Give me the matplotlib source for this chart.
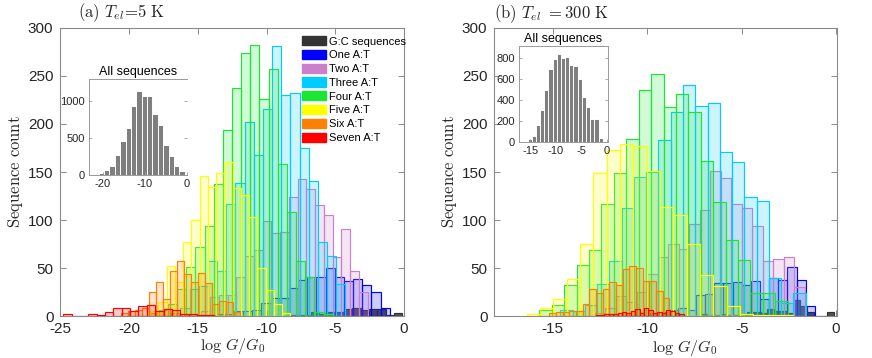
import numpy as np
import matplotlib
matplotlib.use("Agg")
import matplotlib.pyplot as plt
from matplotlib.patches import Patch

plt.rcParams['font.family'] = ['Liberation Sans', 'DejaVu Sans']
plt.rcParams['mathtext.fontset'] = 'cm'
plt.rcParams['axes.unicode_minus'] = False

# ---------------- data ----------------
labels = ["G:C sequences", "One A:T", "Two A:T", "Three A:T",
          "Four A:T", "Five A:T", "Six A:T", "Seven A:T"]
colors = ["#333333", "#0000ff", "#cc80cc", "#00ccff",
          "#1ae633", "#ffff00", "#ff8000", "#ff0000"]

# panel (a)  T_el = 5 K : (first bin left edge, bin width, counts)
a_gc_start, a_gc_width = -8.62, 0.607
a_gc_counts = [1, 1, 1, 4, 2, 4, 4, 7, 8, 6, 7, 7, 1, 3]
a_one_start, a_one_width = -14.38, 0.667
a_one_counts = [1, 2, 2, 5, 5, 6, 14, 19, 19, 29, 37, 41, 41, 50, 41, 36, 39, 32, 25, 8]
a_two_start, a_two_width = -14.75, 0.637
a_two_counts = [5, 20, 22, 22, 41, 62, 69, 99, 86, 88, 124, 143, 132, 116, 105, 61, 91, 47, 25]
a_three_start, a_three_width = -16.93, 0.666
a_three_counts = [3, 8, 28, 31, 57, 47, 117, 139, 202, 168, 216, 281, 230, 232, 175, 141, 77, 63, 33]
a_four_start, a_four_width = -18.51, 0.666
a_four_counts = [3, 6, 13, 28, 51, 72, 94, 138, 194, 238, 274, 282, 226, 257, 158, 108, 57, 41, 4, 2]
a_five_start, a_five_width = -18.47, 0.600
a_five_counts = [5, 15, 52, 35, 77, 100, 146, 134, 149, 160, 133, 126, 103, 50, 27, 12, 3]
a_six_start, a_six_width = -20.58, 0.510
a_six_counts = [3, 5, 6, 8, 25, 35, 18, 47, 57, 44, 35, 45, 34, 12, 16, 15, 4]
a_seven_start, a_seven_width = -24.78, 0.607
a_seven_counts = [2, 0, 0, 2, 1, 4, 8, 8, 5, 10, 11, 5, 7, 6, 2, 2, 1, 1]

# panel (b)  T_el = 300 K
b_gc_start, b_gc_width = -7.18, 0.353
b_gc_counts = [2, 1, 1, 2, 1, 1, 2, 4, 4, 3, 7, 5, 5, 3, 17, 10, 4, 0, 0, 4]
b_one_start, b_one_width = -9.85, 0.485
b_one_counts = [3, 4, 6, 8, 6, 22, 23, 34, 34, 35, 32, 36, 18, 40, 38, 51, 37, 10]
b_two_start, b_two_width = -12.79, 0.557
b_two_counts = [3, 8, 21, 15, 25, 44, 61, 75, 70, 96, 110, 151, 144, 117, 112, 94, 57, 59, 61, 30]
b_three_start, b_three_width = -14.61, 0.650
b_three_counts = [6, 5, 11, 33, 57, 112, 145, 150, 183, 213, 241, 219, 222, 171, 160, 124, 120, 40, 14, 24]
b_four_start, b_four_width = -15.71, 0.657
b_four_counts = [6, 11, 32, 53, 69, 117, 149, 184, 235, 252, 218, 231, 213, 161, 119, 79, 58, 24, 24, 16]
b_five_start, b_five_width = -16.38, 0.706
b_five_counts = [2, 8, 18, 39, 75, 149, 173, 179, 177, 151, 114, 105, 75, 43, 31, 10, 2, 1, 1, 1]
b_six_start, b_six_width = -15.19, 0.353
b_six_counts = [3, 4, 4, 5, 5, 13, 28, 24, 28, 35, 32, 49, 52, 50, 36, 36, 26, 19]
b_seven_start, b_seven_width = -12.74, 0.233
b_seven_counts = [1, 1, 2, 2, 2, 3, 4, 3, 5, 7, 3, 8, 6, 3, 4, 3, 6, 5, 3, 2]

# insets: all sequences
ia_start, ia_width = -22.24, 1.28
ia_counts = [14, 23, 68, 126, 266, 455, 640, 932, 1140, 1077, 1077, 824, 676, 401, 257, 126, 54]
ib_start, ib_width = -15.52, 0.815
ib_counts = [22, 57, 158, 300, 490, 696, 791, 832, 800, 807, 734, 718, 592, 421, 332, 212, 212, 32]

panel_a = [(a_gc_start, a_gc_width, a_gc_counts), (a_one_start, a_one_width, a_one_counts),
           (a_two_start, a_two_width, a_two_counts), (a_three_start, a_three_width, a_three_counts),
           (a_four_start, a_four_width, a_four_counts), (a_five_start, a_five_width, a_five_counts),
           (a_six_start, a_six_width, a_six_counts), (a_seven_start, a_seven_width, a_seven_counts)]
panel_b = [(b_gc_start, b_gc_width, b_gc_counts), (b_one_start, b_one_width, b_one_counts),
           (b_two_start, b_two_width, b_two_counts), (b_three_start, b_three_width, b_three_counts),
           (b_four_start, b_four_width, b_four_counts), (b_five_start, b_five_width, b_five_counts),
           (b_six_start, b_six_width, b_six_counts), (b_seven_start, b_seven_width, b_seven_counts)]

# ---------------- figure ----------------
fig = plt.figure(figsize=(8.72, 3.58), dpi=100)
axA = fig.add_axes([0.0692, 0.1173, 0.3942, 0.8045])
axB = fig.add_axes([0.5669, 0.1173, 0.3930, 0.8045])

SPINE = "#8a8a8a"
TXT = "#262626"


def draw_hist(ax, series):
    for i, (start, width, counts) in enumerate(series):
        counts = np.asarray(counts, dtype=float)
        left = start + width * np.arange(len(counts))
        alpha = 0.85 if i == 0 else 0.2
        c = matplotlib.colors.to_rgb(colors[i])
        ax.bar(left, counts, width=width, align='edge',
               color=(*c, alpha), edgecolor=c, linewidth=0.85, zorder=2 + i)


def style_main(ax):
    for s in ax.spines.values():
        s.set_color(SPINE)
        s.set_linewidth(0.8)
    ax.tick_params(direction='in', length=4, width=0.7, color=SPINE,
                   top=True, right=True, labelsize=11, labelcolor=TXT)
    ax.tick_params(axis='x', pad=4.5)
    ax.tick_params(axis='y', pad=5)
    ax.set_ylim(0, 300)
    ax.set_yticks(np.arange(0, 301, 50))
    ax.set_xlabel(r"$\log\,G/G_0$", fontsize=11.5, color=TXT, labelpad=0)
    ax.set_ylabel(r"$\mathrm{Sequence\ count}$", fontsize=12, color=TXT, labelpad=2)


draw_hist(axA, panel_a)
style_main(axA)
axA.set_xlim(-25, 0)
axA.set_xticks(np.arange(-25, 1, 5))
axA.text(0.05, 1.015, r"$\mathrm{(a)}\ T_{el}\!=\!5\ \mathrm{K}$", transform=axA.transAxes,
         fontsize=12, color=TXT, ha='left', va='bottom')

draw_hist(axB, panel_b)
style_main(axB)
axB.set_xlim(-18.1, 0.05)
axB.set_xticks([-15, -10, -5, 0])
axB.xaxis.set_label_coords(0.555, -0.075)
axB.text(0.0, 1.01, r"$\mathrm{(b)}\ T_{el}\ {=}300\ \mathrm{K}$", transform=axB.transAxes,
         fontsize=12, color=TXT, ha='left', va='bottom')

# legend
handles = [Patch(facecolor=c, edgecolor=c) for c in colors]
axA.legend(handles, labels, loc='upper left', bbox_to_anchor=(0.702, 0.972),
           frameon=False, fontsize=8, handlelength=2.2, handleheight=0.9,
           handletextpad=0.25, labelspacing=0.3, borderpad=0, borderaxespad=0)


def draw_inset(rect, start, width, counts, xlim, ylim, xticks, yticks, right_spine):
    ax = fig.add_axes(rect)
    counts = np.asarray(counts, dtype=float)
    left = start + width * np.arange(len(counts))
    ax.bar(left, counts, width=width, align='edge', color="#7f7f7f",
           edgecolor="white", linewidth=0.7)
    ax.set_xlim(*xlim)
    ax.set_ylim(*ylim)
    ax.set_xticks(xticks)
    ax.set_yticks(yticks)
    for s in ax.spines.values():
        s.set_color("#9a9a9a")
        s.set_linewidth(0.7)
    ax.spines['right'].set_visible(right_spine)
    ax.tick_params(direction='in', length=2.5, width=0.6, color="#9a9a9a",
                   right=True, labelsize=8, labelcolor=TXT, pad=3)
    ax.set_title("All sequences", fontsize=9, color="black", pad=3)
    return ax


draw_inset([0.1024, 0.5112, 0.1117, 0.2673], ia_start, ia_width, ia_counts,
           (-23.2, 0), (0, 1300), [-20, -10, 0], [0, 500, 1000], False)
draw_inset([0.5955, 0.6042, 0.1014, 0.2673], ib_start, ib_width, ib_counts,
           (-17.15, 0.13), (0, 910), [-15, -10, -5, 0], [0, 200, 400, 600, 800], True)

fig.savefig("out.png", dpi=100, facecolor="white")
